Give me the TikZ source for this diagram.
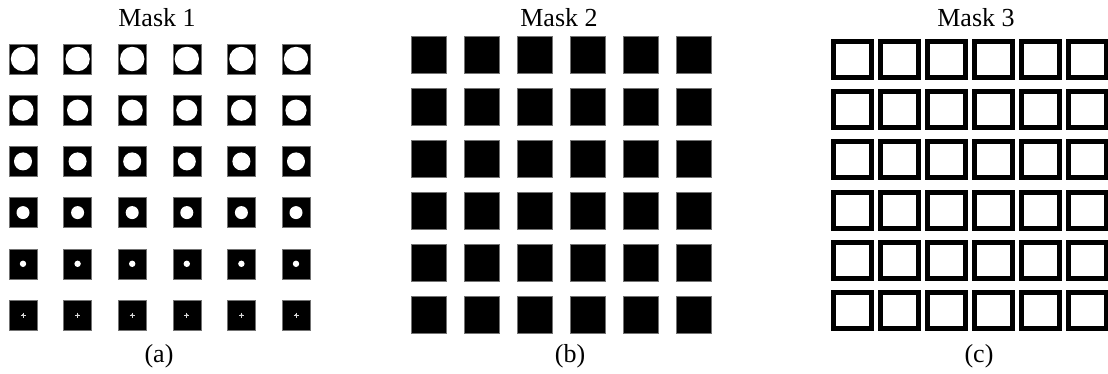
\documentclass[tikz,border=0pt]{standalone}
\usepackage{fontspec}
\setmainfont{Liberation Serif}
\begin{document}
\begin{tikzpicture}[x=1pt,y=-1pt,
  lbl/.style={inner sep=0pt,font=\fontsize{26}{30}\selectfont},
  cellbox/.style={fill=black,draw=black!55,line width=0.6pt},
  frame/.style={draw=black,line width=5pt}]
\useasboundingbox (0,0) rectangle (1108,374);
% titles
\node[lbl] (t1) at (157,18) {Mask 1};
\node[lbl] (t2) at (559,18) {Mask 2};
\node[lbl] (t3) at (976,18) {Mask 3};
% captions
\node[lbl] (ca) at (159,356) {(a)};
\node[lbl] (cb) at (570,356) {(b)};
\node[lbl] (cc) at (979,356) {(c)};
% Mask 1
\foreach \r/\rad in {0/12.2,1/10.6,2/9,3/6.5,4/3.2} {
  \foreach \c in {0,...,5} {
    \pgfmathsetmacro{\xx}{9+54.6*\c}
    \pgfmathsetmacro{\yy}{44+51.2*\r}
    \path[cellbox] (\xx,\yy) rectangle ++(28,30);
    \fill[white] (\xx+14,\yy+15) circle (\rad);
  }
}
\foreach \c in {0,...,5} {
  \pgfmathsetmacro{\xx}{9+54.6*\c}
  \pgfmathsetmacro{\yy}{44+51.2*5}
  \path[cellbox] (\xx,\yy) rectangle ++(28,30);
  \fill[white] (\xx+14,\yy+15) circle (1.1);
  \draw[white!85!black,line width=0.8pt] (\xx+11.5,\yy+15) -- (\xx+16.5,\yy+15)
    (\xx+14,\yy+12.5) -- (\xx+14,\yy+17.5);
}
% Mask 2
\foreach \r in {0,...,5} {
  \foreach \c in {0,...,5} {
    \pgfmathsetmacro{\xx}{411+53*\c}
    \pgfmathsetmacro{\yy}{36+52*\r}
    \path[cellbox] (\xx,\yy) rectangle ++(35,37);
  }
}
% Mask 3
\foreach \r in {0,...,5} {
  \foreach \c in {0,...,5} {
    \pgfmathsetmacro{\xx}{831+47*\c}
    \pgfmathsetmacro{\yy}{39+50.2*\r}
    \path[frame] (\xx+2.5,\yy+2.5) rectangle ++(38,36);
  }
}
\end{tikzpicture}
\end{document}
